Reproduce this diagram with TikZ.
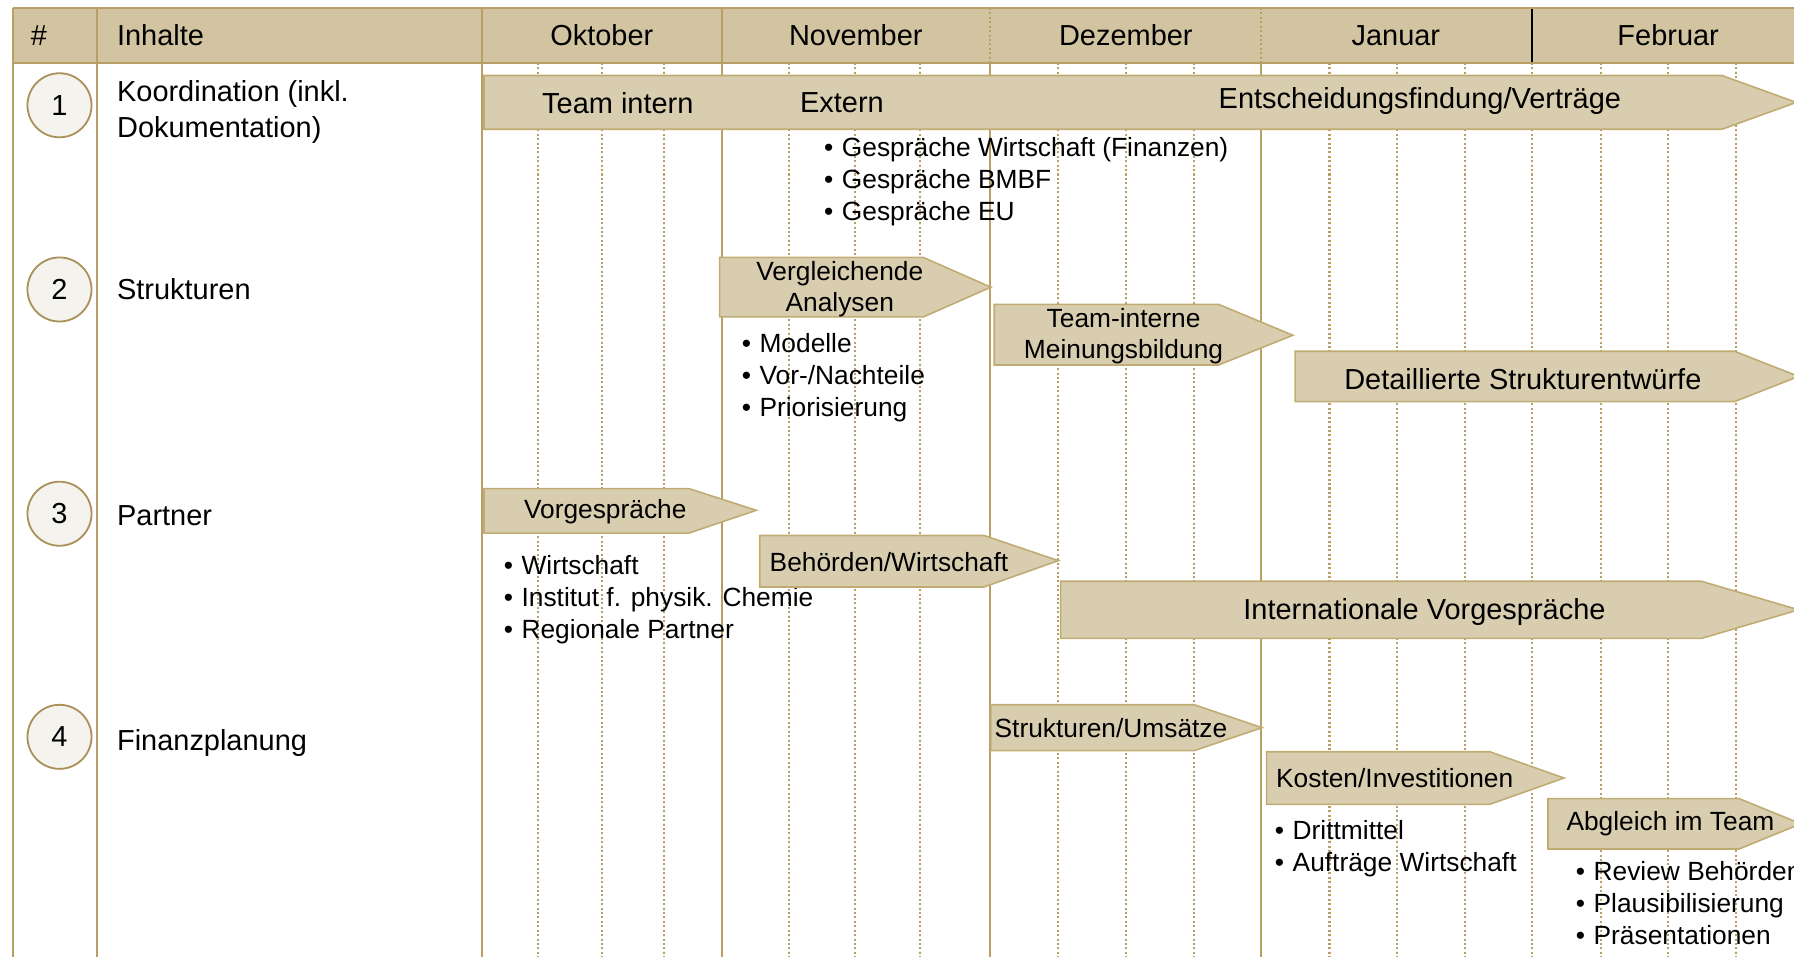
\documentclass[tikz,border=0pt]{standalone}
\usepackage{fontspec}
\setmainfont{Liberation Sans}

\definecolor{headfill}{RGB}{211,196,161}
\definecolor{tanline}{RGB}{184,160,100}
\definecolor{barfill}{RGB}{216,205,175}
\definecolor{barline}{RGB}{192,172,115}
\definecolor{circfill}{RGB}{244,243,238}
\definecolor{circline}{RGB}{170,145,90}

\newcommand{\itm}{\makebox[0.31cm][l]{\textbullet}}

\begin{document}
\begin{tikzpicture}[x=0.02cm,y=-0.02cm,
    big/.style={font=\fontsize{14.4}{18.2}\selectfont},
    small/.style={font=\fontsize{13.1}{15.4}\selectfont},
    lst/.style={font=\fontsize{13.1}{15.9}\selectfont, align=left, inner sep=0pt, anchor=west},
    txt/.style={inner sep=0pt, anchor=west},
    bar/.style={fill=barfill, draw=barline, line width=0.8pt},
    monthline/.style={draw=tanline, line width=1pt},
    weekline/.style={draw=tanline, line width=1pt, dash pattern=on 1pt off 1.2pt},
    num/.style={circle, draw=circline, fill=circfill, line width=0.9pt, minimum size=1.12cm, inner sep=0pt, big}]
    \useasboundingbox (0,0) rectangle (1568,836);
    \clip (0,0) rectangle (1568,836);

    % grid
    \foreach \x in {470,526,580,690,747,804,925,984,1044,1162,1221,1280,1339,1399,1458,1517}
        \draw[weekline] (\x,55) -- (\x,836);
    \foreach \x in {11,85,421,631}
        \draw[monthline] (\x,7) -- (\x,836);
    \foreach \x in {865,1102}
        \draw[monthline] (\x,55) -- (\x,836);

    % header
    \fill[headfill] (11,7) rectangle (1568,55);
    \foreach \x in {11,85,421,631}
        \draw[monthline] (\x,7) -- (\x,55);
    \foreach \x in {865,1102}
        \draw[weekline] (\x,7) -- (\x,55);
    \draw[black, line width=1pt] (1339,7) -- (1339,55);
    \draw[monthline] (11,7) -- (1568,7);
    \draw[monthline] (11,55) -- (1568,55);
    \node[big] (hash) at (34,31) {\#};
    \node[big, txt] (inhalte) at (102,31) {Inhalte};
    \node[big] (okt) at (526,31) {Oktober};
    \node[big] (nov) at (748,31) {November};
    \node[big] (dez) at (984,31) {Dezember};
    \node[big] (jan) at (1220,31) {Januar};
    \node[big] (feb) at (1458,31) {Februar};

    % row 1: Koordination
    \node[num] (n1) at (52,92) {1};
    \node[big, txt, align=left] (koord) at (102,98) {Koordination (inkl.\\Dokumentation)};
    \filldraw[bar] (423,66) -- (1505,66) -- (1570,89.5) -- (1505,113) -- (423,113) -- cycle;
    \node[big] (intern) at (540,90) {Team intern};
    \node[big, txt] (extern) at (699,90) {Extern};
    \node[big] (entsch) at (1241,88) {Entscheidungsfindung/Verträge};
    \node[lst] (extlist) at (720,159) {\itm Gespräche Wirtschaft (Finanzen)\\\itm Gespräche BMBF\\\itm Gespräche EU};

    % row 2: Strukturen
    \node[num] (n2) at (52,253) {2};
    \node[big, txt] (struk) at (102,253) {Strukturen};
    %% vergleichende Analysen
    \filldraw[bar] (629,225) -- (807,225) -- (866,251) -- (807,277) -- (629,277) -- cycle;
    \node[small, align=center, inner sep=0pt] (vergl) at (734,253) {Vergleichende\\Analysen};
    \node[lst] (vergllist) at (648,330) {\itm Modelle\\\itm Vor-/Nachteile\\\itm Priorisierung};
    %% Meinungsbildung
    \filldraw[bar] (869,266) -- (1065,266) -- (1130,293) -- (1065,319) -- (869,319) -- cycle;
    \node[small, align=center, inner sep=0pt] (meinung) at (982,294) {Team-interne\\Meinungsbildung};
    %% Entwuerfe
    \filldraw[bar] (1132,307) -- (1516,307) -- (1572,329) -- (1516,351) -- (1132,351) -- cycle;
    \node[big] (entwurf) at (1331,331) {Detaillierte Strukturentwürfe};

    % row 3: Partner
    \node[num] (n3) at (52,449) {3};
    \node[big, txt] (partner) at (102,451) {Partner};
    %% Vorgespraeche
    \filldraw[bar] (423,427) -- (602,427) -- (661,446) -- (602,466) -- (423,466) -- cycle;
    \node[small] (vorg) at (529,447) {Vorgespräche};
    \node[lst] (vorglist) at (440,524) {\itm Wirtschaft\\\itm Institut f. physik. Chemie\\\itm Regionale Partner};
    %% Behoerden
    \filldraw[bar] (664,468) -- (860,468) -- (925,490) -- (860,513) -- (664,513) -- cycle;
    \node[small] (behoerden) at (777,491) {Behörden/Wirtschaft};
    %% international
    \filldraw[bar] (927,508) -- (1487,508) -- (1572,533) -- (1487,558) -- (927,558) -- cycle;
    \node[big] (internat) at (1245,535) {Internationale Vorgespräche};

    % row 4: Finanzplanung
    \node[num] (n4) at (52,644) {4};
    \node[big, txt] (finanz) at (102,649) {Finanzplanung};
    %% Umsaetze
    \filldraw[bar] (866,616) -- (1044,616) -- (1103,636) -- (1044,656) -- (866,656) -- cycle;
    \node[small] (umsatz) at (971,636) {Strukturen/Umsätze};
    %% Kosten
    \filldraw[bar] (1107,657) -- (1302,657) -- (1367,680) -- (1302,703) -- (1107,703) -- cycle;
    \node[small] (kosten) at (1219,680) {Kosten/Investitionen};
    \node[lst] (kostlist) at (1114,742) {\itm Drittmittel\\\itm Aufträge Wirtschaft};
    %% Abgleich
    \filldraw[bar] (1353,698) -- (1520,698) -- (1574,720) -- (1520,742) -- (1353,742) -- cycle;
    \node[small] (abgleich) at (1460,720) {Abgleich im Team};
    \node[lst] (abgllist) at (1377,789) {\itm Review Behörden\\\itm Plausibilisierung\\\itm Präsentationen};
\end{tikzpicture}
\end{document}
